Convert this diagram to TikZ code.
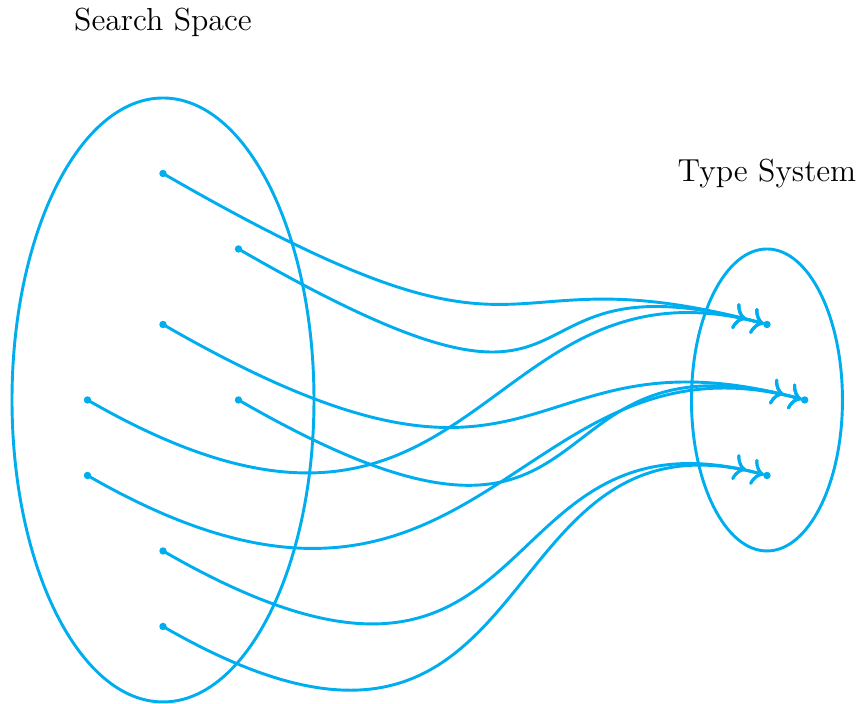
\documentclass[tikz,border=0pt]{standalone}
\usepackage{tikz}
\usetikzlibrary{arrows.meta}
\definecolor{mapblue}{RGB}{0,174,239}

\begin{document}
\begin{tikzpicture}[
    mapto/.style={mapblue, line width=1.1pt,
      -{Computer Modern Rightarrow[length=4.5pt,width=10pt,sep=2.5pt]Computer Modern Rightarrow[length=4.5pt,width=10pt]},
      shorten >=1.2pt, out=-30, in=165, out distance=6cm, in distance=4cm},
    pt/.style={circle, fill=mapblue, inner sep=0pt, minimum size=2.8pt}
  ]
  \useasboundingbox (-2.159,-4.026) rectangle (9.219,5.298);

  % Draw the search space and the type system
  \draw[mapblue, line width=1.1pt] (0,0) ellipse (2 and 4);
  \draw[mapblue, line width=1.1pt] (8,0) ellipse (1 and 2);
  \node[font=\large] (search) at (0,5) {Search Space};
  \node[font=\large] (types) at (8,3) {Type System};

  % Draw the points
  \node[pt] (p1) at (0,3) {};
  \node[pt] (p2) at (1,2) {};
  \node[pt] (p3) at (0,1) {};
  \node[pt] (p4) at (-1,0) {};
  \node[pt] (p5) at (1,0) {};
  \node[pt] (p6) at (-1,-1) {};
  \node[pt] (p7) at (0,-2) {};
  \node[pt] (p8) at (0,-3) {};
  \node[pt] (t1) at (8,1) {};
  \node[pt] (t2) at (8.5,0) {};
  \node[pt] (t3) at (8,-1) {};

  % Draw the mapping
  \draw[mapto] (p1.center) to (t1.center);
  \draw[mapto] (p2.center) to (t1.center);
  \draw[mapto] (p4.center) to (t1.center);
  \draw[mapto] (p3.center) to (t2.center);
  \draw[mapto] (p5.center) to (t2.center);
  \draw[mapto] (p6.center) to (t2.center);
  \draw[mapto] (p7.center) to (t3.center);
  \draw[mapto] (p8.center) to (t3.center);
\end{tikzpicture}
\end{document}
